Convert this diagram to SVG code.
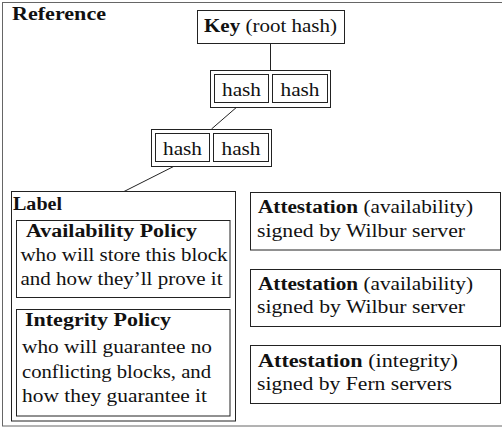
<svg xmlns="http://www.w3.org/2000/svg" width="502" height="427" viewBox="0 0 502 427">
<style>
text{font-family:"Liberation Serif","DejaVu Serif",serif;font-size:18px;fill:#111}
.b{font-weight:bold}
.box{fill:#fff;stroke:#222;stroke-width:1}
.frame{fill:#fff;stroke:#666;stroke-width:1}
.conn{stroke:#222;stroke-width:1;fill:none}
</style>
<rect x="0" y="0" width="502" height="427" fill="#fff"/>
<rect class="frame" x="2.5" y="2.5" width="520" height="423.5"/>
<text class="b" x="12" y="20" textLength="94" lengthAdjust="spacingAndGlyphs">Reference</text>
<g id="connectors">
<line class="conn" x1="270.5" y1="43" x2="270.5" y2="70"/>
<line class="conn" x1="241.5" y1="103" x2="211.5" y2="129"/>
<line class="conn" x1="182.5" y1="162" x2="124" y2="191.5"/>
</g>
<g id="key">
<rect class="box" x="197.5" y="10.5" width="147" height="33"/>
<text x="204" y="32" textLength="133" lengthAdjust="spacingAndGlyphs"><tspan class="b">Key</tspan> (root hash)</text>
</g>
<g id="level1">
<rect class="box" x="210.5" y="70.5" width="120" height="37"/>
<rect class="box" x="214.5" y="74.5" width="54" height="28"/>
<rect class="box" x="272.5" y="74.5" width="55" height="28"/>
<text x="222" y="96" textLength="39" lengthAdjust="spacingAndGlyphs">hash</text>
<text x="280.5" y="96" textLength="39" lengthAdjust="spacingAndGlyphs">hash</text>
</g>
<g id="level2">
<rect class="box" x="151.5" y="129.5" width="120" height="37"/>
<rect class="box" x="155.5" y="133.5" width="54" height="28"/>
<rect class="box" x="213.5" y="133.5" width="55" height="28"/>
<text x="163" y="155" textLength="39" lengthAdjust="spacingAndGlyphs">hash</text>
<text x="221.5" y="155" textLength="39" lengthAdjust="spacingAndGlyphs">hash</text>
</g>
<g id="label">
<rect class="box" x="11.5" y="191.5" width="224" height="229.5"/>
<text class="b" x="13" y="210" textLength="49" lengthAdjust="spacingAndGlyphs">Label</text>
</g>
<g id="availability-policy">
<rect class="box" x="16.5" y="220.5" width="213.5" height="77"/>
<text class="b" x="26" y="237" textLength="171" lengthAdjust="spacingAndGlyphs">Availability Policy</text>
<text x="20.5" y="261" textLength="207" lengthAdjust="spacingAndGlyphs">who will store this block</text>
<text x="20.5" y="285" textLength="202" lengthAdjust="spacingAndGlyphs">and how they’ll prove it</text>
</g>
<g id="integrity-policy">
<rect class="box" x="16.5" y="309.5" width="213.5" height="106.5"/>
<text class="b" x="25" y="326" textLength="146" lengthAdjust="spacingAndGlyphs">Integrity Policy</text>
<text x="22" y="353" textLength="190" lengthAdjust="spacingAndGlyphs">who will guarantee no</text>
<text x="22" y="378" textLength="189" lengthAdjust="spacingAndGlyphs">conflicting blocks, and</text>
<text x="22" y="402" textLength="185" lengthAdjust="spacingAndGlyphs">how they guarantee it</text>
</g>
<g id="attestation1">
<rect class="box" x="250.5" y="192.5" width="250" height="57.5"/>
<text x="258" y="213" textLength="215" lengthAdjust="spacingAndGlyphs"><tspan class="b">Attestation</tspan> (availability)</text>
<text x="257" y="237" textLength="208" lengthAdjust="spacingAndGlyphs">signed by Wilbur server</text>
</g>
<g id="attestation2">
<rect class="box" x="250.5" y="269.5" width="250" height="57"/>
<text x="258" y="290" textLength="215" lengthAdjust="spacingAndGlyphs"><tspan class="b">Attestation</tspan> (availability)</text>
<text x="257" y="313" textLength="208" lengthAdjust="spacingAndGlyphs">signed by Wilbur server</text>
</g>
<g id="attestation3">
<rect class="box" x="250.5" y="345.5" width="250" height="58"/>
<text x="258" y="367" textLength="200" lengthAdjust="spacingAndGlyphs"><tspan class="b">Attestation</tspan> (integrity)</text>
<text x="257" y="390" textLength="195" lengthAdjust="spacingAndGlyphs">signed by Fern servers</text>
</g>
</svg>
